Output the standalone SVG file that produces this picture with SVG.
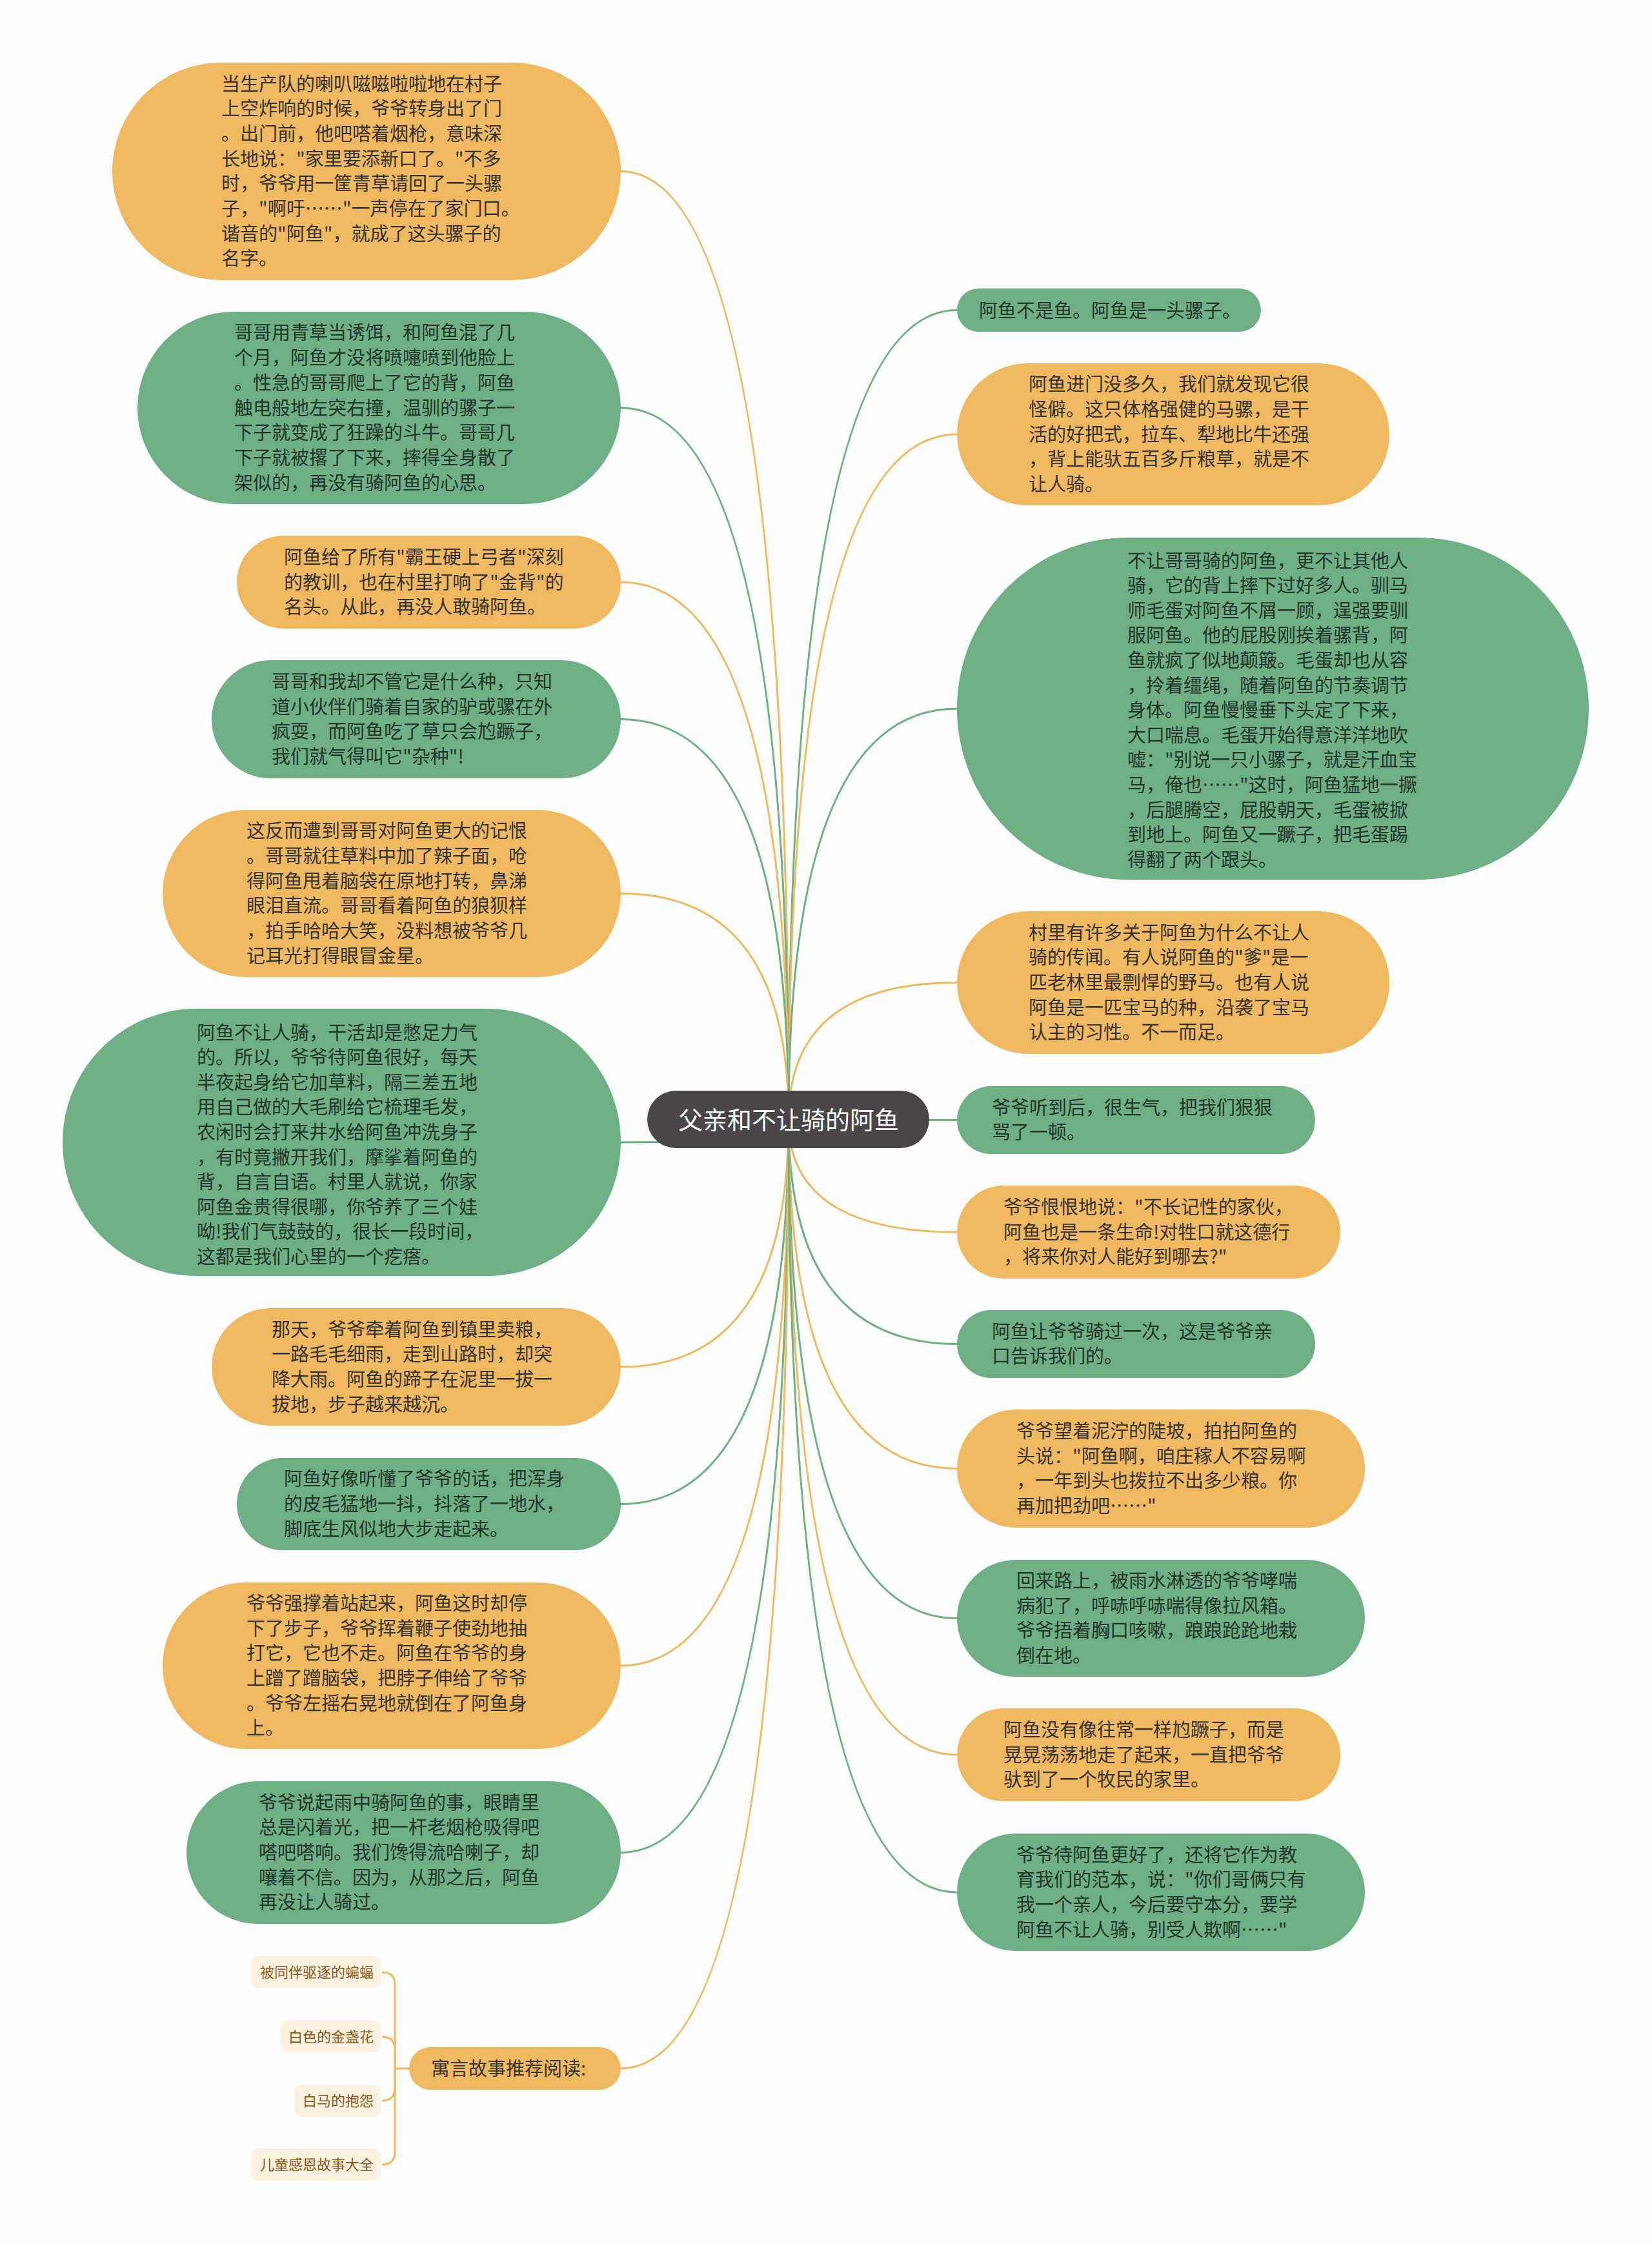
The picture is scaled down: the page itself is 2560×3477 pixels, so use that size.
<svg xmlns="http://www.w3.org/2000/svg" width="2560" height="3477" viewBox="0 0 2560 3477">
<style>
.o{fill:#f0b95f}
.g{fill:#6faf85}
.c{fill:none;stroke-width:3}
.co{stroke:#f0b95f}
.cg{stroke:#6faf85}
.t{font-family:"Noto Sans CJK SC","Noto Sans",sans-serif;font-size:29px}
.to{fill:#333333}
.tg{fill:#22352a}
.leaf{fill:#fdf1e2}
.lt{font-family:"Noto Sans CJK SC","Noto Sans",sans-serif;font-size:22px;fill:#8a5a17}
</style>
<rect x="0" y="0" width="2560" height="3477" fill="#fcfefe"/>
<g id="connectors">
<path class="c co" d="M1222,1735 Q1222,265.5 962,265.5"/>
<path class="c cg" d="M1222,1735 Q1222,632 962,632"/>
<path class="c co" d="M1222,1735 Q1222,902 962,902"/>
<path class="c cg" d="M1222,1735 Q1222,1114.5 962,1114.5"/>
<path class="c co" d="M1222,1735 Q1222,1384.5 962,1384.5"/>
<path class="c cg" d="M1222,1735 Q1222,1770 962,1770"/>
<path class="c co" d="M1222,1735 Q1222,2118 962,2118"/>
<path class="c cg" d="M1222,1735 Q1222,2330.5 962,2330.5"/>
<path class="c co" d="M1222,1735 Q1222,2581 962,2581"/>
<path class="c cg" d="M1222,1735 Q1222,2870.5 962,2870.5"/>
<path class="c co" d="M1222,1735 Q1222,3205 962,3205"/>
<path class="c cg" d="M1222,1735 Q1222,480.5 1483,480.5"/>
<path class="c co" d="M1222,1735 Q1222,673 1483,673"/>
<path class="c cg" d="M1222,1735 Q1222,1098 1483,1098"/>
<path class="c co" d="M1222,1735 Q1222,1522.5 1483,1522.5"/>
<path class="c cg" d="M1222,1735 Q1222,1735.5 1483,1735.5"/>
<path class="c co" d="M1222,1735 Q1222,1909 1483,1909"/>
<path class="c cg" d="M1222,1735 Q1222,2082.5 1483,2082.5"/>
<path class="c co" d="M1222,1735 Q1222,2275.5 1483,2275.5"/>
<path class="c cg" d="M1222,1735 Q1222,2507.5 1483,2507.5"/>
<path class="c co" d="M1222,1735 Q1222,2719 1483,2719"/>
<path class="c cg" d="M1222,1735 Q1222,2932 1483,2932"/>
<path class="c co" d="M634,3205 H612"/>
<path class="c co" d="M612,3205 V3076 Q612,3056 592,3056"/>
<path class="c co" d="M612,3205 V3176 Q612,3156 592,3156"/>
<path class="c co" d="M612,3205 V3235 Q612,3255 592,3255"/>
<path class="c co" d="M612,3205 V3334 Q612,3354 592,3354"/>
</g>
<g id="center">
<rect x="1003" y="1690" width="437" height="89" rx="44.5" fill="#4a4546"/>
<text x="1222" y="1749" text-anchor="middle" font-family="Noto Sans CJK SC, Noto Sans, sans-serif" font-size="38" fill="#ffffff">父亲和不让骑的阿鱼</text>
</g>
<g id="L1">
<rect class="o" x="174" y="97" width="788" height="337" rx="168.5"/>
<text class="t to" x="343" y="140.5"><tspan x="343">当生产队的喇叭嗞嗞啦啦地在村子</tspan><tspan x="343" dy="38.7">上空炸响的时候，爷爷转身出了门</tspan><tspan x="343" dy="38.7">。出门前，他吧嗒着烟枪，意味深</tspan><tspan x="343" dy="38.7">长地说："家里要添新口了。"不多</tspan><tspan x="343" dy="38.7">时，爷爷用一筐青草请回了一头骡</tspan><tspan x="343" dy="38.7">子，"啊吁……"一声停在了家门口。</tspan><tspan x="343" dy="38.7">谐音的"阿鱼"，就成了这头骡子的</tspan><tspan x="343" dy="38.7">名字。</tspan></text>
</g>
<g id="L2">
<rect class="g" x="213" y="483" width="749" height="298" rx="149"/>
<text class="t tg" x="363" y="526.4"><tspan x="363">哥哥用青草当诱饵，和阿鱼混了几</tspan><tspan x="363" dy="38.7">个月，阿鱼才没将喷嚏喷到他脸上</tspan><tspan x="363" dy="38.7">。性急的哥哥爬上了它的背，阿鱼</tspan><tspan x="363" dy="38.7">触电般地左突右撞，温驯的骡子一</tspan><tspan x="363" dy="38.7">下子就变成了狂躁的斗牛。哥哥几</tspan><tspan x="363" dy="38.7">下子就被撂了下来，摔得全身散了</tspan><tspan x="363" dy="38.7">架似的，再没有骑阿鱼的心思。</tspan></text>
</g>
<g id="L3">
<rect class="o" x="367" y="830" width="595" height="144" rx="72"/>
<text class="t to" x="440" y="873.8"><tspan x="440">阿鱼给了所有"霸王硬上弓者"深刻</tspan><tspan x="440" dy="38.7">的教训，也在村里打响了"金背"的</tspan><tspan x="440" dy="38.7">名头。从此，再没人敢骑阿鱼。</tspan></text>
</g>
<g id="L4">
<rect class="g" x="328" y="1023" width="634" height="183" rx="91.5"/>
<text class="t tg" x="421" y="1067"><tspan x="421">哥哥和我却不管它是什么种，只知</tspan><tspan x="421" dy="38.7">道小伙伴们骑着自家的驴或骡在外</tspan><tspan x="421" dy="38.7">疯耍，而阿鱼吃了草只会尥蹶子，</tspan><tspan x="421" dy="38.7">我们就气得叫它"杂种"!</tspan></text>
</g>
<g id="L5">
<rect class="o" x="252" y="1255" width="710" height="259" rx="129.5"/>
<text class="t to" x="382" y="1298.3"><tspan x="382">这反而遭到哥哥对阿鱼更大的记恨</tspan><tspan x="382" dy="38.7">。哥哥就往草料中加了辣子面，呛</tspan><tspan x="382" dy="38.7">得阿鱼甩着脑袋在原地打转，鼻涕</tspan><tspan x="382" dy="38.7">眼泪直流。哥哥看着阿鱼的狼狈样</tspan><tspan x="382" dy="38.7">，拍手哈哈大笑，没料想被爷爷几</tspan><tspan x="382" dy="38.7">记耳光打得眼冒金星。</tspan></text>
</g>
<g id="L6">
<rect class="g" x="97" y="1563" width="865" height="414" rx="207"/>
<text class="t tg" x="305" y="1610.5"><tspan x="305">阿鱼不让人骑，干活却是憋足力气</tspan><tspan x="305" dy="38.6">的。所以，爷爷待阿鱼很好，每天</tspan><tspan x="305" dy="38.6">半夜起身给它加草料，隔三差五地</tspan><tspan x="305" dy="38.6">用自己做的大毛刷给它梳理毛发，</tspan><tspan x="305" dy="38.6">农闲时会打来井水给阿鱼冲洗身子</tspan><tspan x="305" dy="38.6">，有时竟撇开我们，摩挲着阿鱼的</tspan><tspan x="305" dy="38.6">背，自言自语。村里人就说，你家</tspan><tspan x="305" dy="38.6">阿鱼金贵得很哪，你爷养了三个娃</tspan><tspan x="305" dy="38.6">呦!我们气鼓鼓的，很长一段时间，</tspan><tspan x="305" dy="38.6">这都是我们心里的一个疙瘩。</tspan></text>
</g>
<g id="L7">
<rect class="o" x="328" y="2027" width="634" height="182" rx="91"/>
<text class="t to" x="421" y="2070.5"><tspan x="421">那天，爷爷牵着阿鱼到镇里卖粮，</tspan><tspan x="421" dy="38.7">一路毛毛细雨，走到山路时，却突</tspan><tspan x="421" dy="38.7">降大雨。阿鱼的蹄子在泥里一拔一</tspan><tspan x="421" dy="38.7">拔地，步子越来越沉。</tspan></text>
</g>
<g id="L8">
<rect class="g" x="367" y="2259" width="595" height="143" rx="71.5"/>
<text class="t tg" x="440" y="2302.3"><tspan x="440">阿鱼好像听懂了爷爷的话，把浑身</tspan><tspan x="440" dy="38.7">的皮毛猛地一抖，抖落了一地水，</tspan><tspan x="440" dy="38.7">脚底生风似地大步走起来。</tspan></text>
</g>
<g id="L9">
<rect class="o" x="252" y="2452" width="710" height="258" rx="129"/>
<text class="t to" x="382" y="2494.8"><tspan x="382">爷爷强撑着站起来，阿鱼这时却停</tspan><tspan x="382" dy="38.7">下了步子，爷爷挥着鞭子使劲地抽</tspan><tspan x="382" dy="38.7">打它，它也不走。阿鱼在爷爷的身</tspan><tspan x="382" dy="38.7">上蹭了蹭脑袋，把脖子伸给了爷爷</tspan><tspan x="382" dy="38.7">。爷爷左摇右晃地就倒在了阿鱼身</tspan><tspan x="382" dy="38.7">上。</tspan></text>
</g>
<g id="L10">
<rect class="g" x="289" y="2760" width="673" height="221" rx="110.5"/>
<text class="t tg" x="401" y="2803.6"><tspan x="401">爷爷说起雨中骑阿鱼的事，眼睛里</tspan><tspan x="401" dy="38.7">总是闪着光，把一杆老烟枪吸得吧</tspan><tspan x="401" dy="38.7">嗒吧嗒响。我们馋得流哈喇子，却</tspan><tspan x="401" dy="38.7">嚷着不信。因为，从那之后，阿鱼</tspan><tspan x="401" dy="38.7">再没让人骑过。</tspan></text>
</g>
<g id="Y">
<rect class="o" x="634" y="3172" width="328" height="66" rx="33"/>
<text class="t to" x="668" y="3215.5">寓言故事推荐阅读:</text>
</g>
<g id="Y1">
<rect class="leaf" x="389" y="3031" width="201" height="49" rx="10"/>
<text class="lt" x="579" y="3063.5" text-anchor="end">被同伴驱逐的蝙蝠</text>
</g>
<g id="Y2">
<rect class="leaf" x="435" y="3131" width="155" height="49" rx="10"/>
<text class="lt" x="579" y="3163.5" text-anchor="end">白色的金盏花</text>
</g>
<g id="Y3">
<rect class="leaf" x="457" y="3230" width="133" height="50" rx="10"/>
<text class="lt" x="579" y="3263" text-anchor="end">白马的抱怨</text>
</g>
<g id="Y4">
<rect class="leaf" x="389" y="3329" width="201" height="50" rx="10"/>
<text class="lt" x="579" y="3362" text-anchor="end">儿童感恩故事大全</text>
</g>
<g id="R1">
<rect class="g" x="1483" y="447" width="471" height="67" rx="33.5"/>
<text class="t tg" x="1517" y="492">阿鱼不是鱼。阿鱼是一头骡子。</text>
</g>
<g id="R2">
<rect class="o" x="1483" y="563" width="670" height="220" rx="110"/>
<text class="t to" x="1594" y="606.1"><tspan x="1594">阿鱼进门没多久，我们就发现它很</tspan><tspan x="1594" dy="38.7">怪僻。这只体格强健的马骡，是干</tspan><tspan x="1594" dy="38.7">活的好把式，拉车、犁地比牛还强</tspan><tspan x="1594" dy="38.7">，背上能驮五百多斤粮草，就是不</tspan><tspan x="1594" dy="38.7">让人骑。</tspan></text>
</g>
<g id="R3">
<rect class="g" x="1483" y="833" width="979" height="530" rx="265"/>
<text class="t tg" x="1747" y="879.5"><tspan x="1747">不让哥哥骑的阿鱼，更不让其他人</tspan><tspan x="1747" dy="38.6">骑，它的背上摔下过好多人。驯马</tspan><tspan x="1747" dy="38.6">师毛蛋对阿鱼不屑一顾，逞强要驯</tspan><tspan x="1747" dy="38.6">服阿鱼。他的屁股刚挨着骡背，阿</tspan><tspan x="1747" dy="38.6">鱼就疯了似地颠簸。毛蛋却也从容</tspan><tspan x="1747" dy="38.6">，拎着缰绳，随着阿鱼的节奏调节</tspan><tspan x="1747" dy="38.6">身体。阿鱼慢慢垂下头定了下来，</tspan><tspan x="1747" dy="38.6">大口喘息。毛蛋开始得意洋洋地吹</tspan><tspan x="1747" dy="38.6">嘘："别说一只小骡子，就是汗血宝</tspan><tspan x="1747" dy="38.6">马，俺也……"这时，阿鱼猛地一撅</tspan><tspan x="1747" dy="38.6">，后腿腾空，屁股朝天，毛蛋被掀</tspan><tspan x="1747" dy="38.6">到地上。阿鱼又一蹶子，把毛蛋踢</tspan><tspan x="1747" dy="38.6">得翻了两个跟头。</tspan></text>
</g>
<g id="R4">
<rect class="o" x="1483" y="1412" width="670" height="221" rx="110.5"/>
<text class="t to" x="1594" y="1455.6"><tspan x="1594">村里有许多关于阿鱼为什么不让人</tspan><tspan x="1594" dy="38.7">骑的传闻。有人说阿鱼的"爹"是一</tspan><tspan x="1594" dy="38.7">匹老林里最剽悍的野马。也有人说</tspan><tspan x="1594" dy="38.7">阿鱼是一匹宝马的种，沿袭了宝马</tspan><tspan x="1594" dy="38.7">认主的习性。不一而足。</tspan></text>
</g>
<g id="R5">
<rect class="g" x="1483" y="1683" width="555" height="105" rx="52.5"/>
<text class="t tg" x="1537" y="1726.7"><tspan x="1537">爷爷听到后，很生气，把我们狠狠</tspan><tspan x="1537" dy="38.7">骂了一顿。</tspan></text>
</g>
<g id="R6">
<rect class="o" x="1483" y="1837" width="594" height="144" rx="72"/>
<text class="t to" x="1555" y="1880.8"><tspan x="1555">爷爷恨恨地说："不长记性的家伙，</tspan><tspan x="1555" dy="38.7">阿鱼也是一条生命!对牲口就这德行</tspan><tspan x="1555" dy="38.7">，将来你对人能好到哪去?"</tspan></text>
</g>
<g id="R7">
<rect class="g" x="1483" y="2030" width="555" height="105" rx="52.5"/>
<text class="t tg" x="1537" y="2073.7"><tspan x="1537">阿鱼让爷爷骑过一次，这是爷爷亲</tspan><tspan x="1537" dy="38.7">口告诉我们的。</tspan></text>
</g>
<g id="R8">
<rect class="o" x="1483" y="2184" width="632" height="183" rx="91.5"/>
<text class="t to" x="1575" y="2228"><tspan x="1575">爷爷望着泥泞的陡坡，拍拍阿鱼的</tspan><tspan x="1575" dy="38.7">头说："阿鱼啊，咱庄稼人不容易啊</tspan><tspan x="1575" dy="38.7">，一年到头也拨拉不出多少粮。你</tspan><tspan x="1575" dy="38.7">再加把劲吧……"</tspan></text>
</g>
<g id="R9">
<rect class="g" x="1483" y="2417" width="632" height="181" rx="90.5"/>
<text class="t tg" x="1575" y="2460"><tspan x="1575">回来路上，被雨水淋透的爷爷哮喘</tspan><tspan x="1575" dy="38.7">病犯了，呼哧呼哧喘得像拉风箱。</tspan><tspan x="1575" dy="38.7">爷爷捂着胸口咳嗽，踉踉跄跄地栽</tspan><tspan x="1575" dy="38.7">倒在地。</tspan></text>
</g>
<g id="R10">
<rect class="o" x="1483" y="2647" width="594" height="144" rx="72"/>
<text class="t to" x="1555" y="2690.8"><tspan x="1555">阿鱼没有像往常一样尥蹶子，而是</tspan><tspan x="1555" dy="38.7">晃晃荡荡地走了起来，一直把爷爷</tspan><tspan x="1555" dy="38.7">驮到了一个牧民的家里。</tspan></text>
</g>
<g id="R11">
<rect class="g" x="1483" y="2841" width="632" height="182" rx="91"/>
<text class="t tg" x="1575" y="2884.5"><tspan x="1575">爷爷待阿鱼更好了，还将它作为教</tspan><tspan x="1575" dy="38.7">育我们的范本，说："你们哥俩只有</tspan><tspan x="1575" dy="38.7">我一个亲人，今后要守本分，要学</tspan><tspan x="1575" dy="38.7">阿鱼不让人骑，别受人欺啊……"</tspan></text>
</g>
</svg>
